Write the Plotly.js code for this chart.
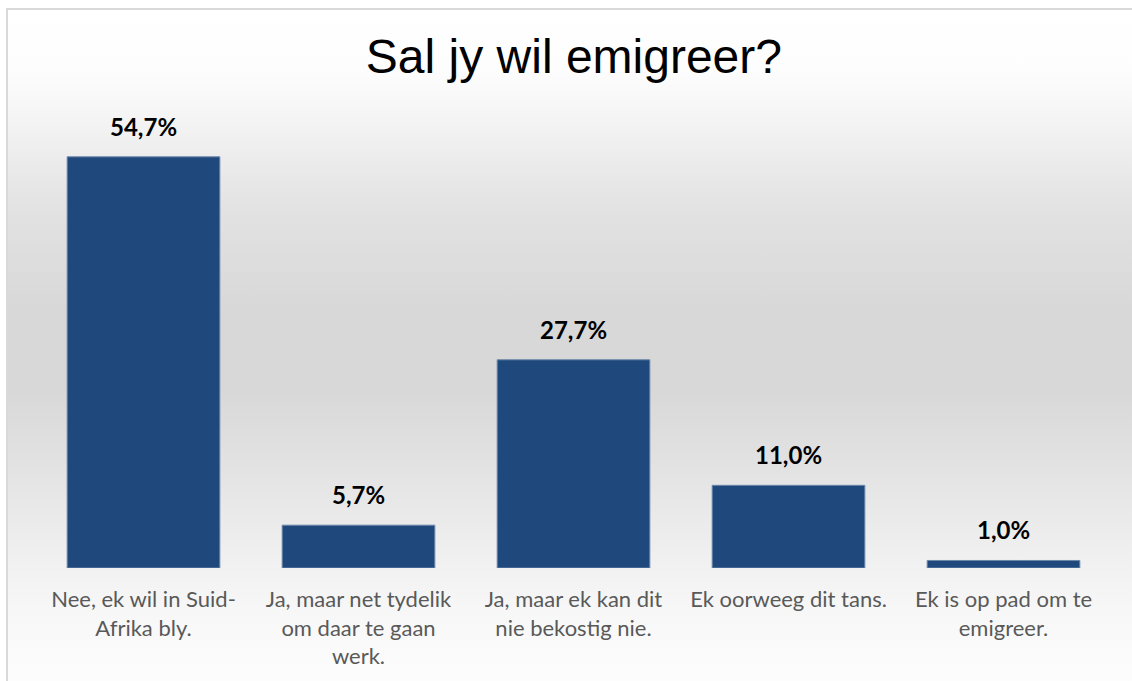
<!DOCTYPE html>
<html>
<head>
<meta charset="utf-8">
<script src="https://cdn.plot.ly/plotly-3.0.1.min.js"></script>
<style>
  html, body { margin: 0; padding: 0; background: #ffffff; overflow: hidden; }
  #frame {
    position: absolute; left: 6px; top: 8px; width: 1140px; height: 690px;
    border-top: 2px solid #d9d9d9; border-left: 2px solid #d9d9d9;
    background: linear-gradient(to bottom, #ffffff 0px, #fdfdfd 60px, #f4f4f4 110px, #e2e2e2 200px, #d8d8d8 300px, #d8d8d8 380px, #e3e3e3 460px, #efefef 540px, #f7f7f7 600px, #fdfdfd 672px);
  }
  #chart { position: absolute; left: 0; top: 0; width: 1132px; height: 681px; }
</style>
</head>
<body>
<div id="frame"></div>
<div id="chart"></div>
<script>
const categories = [
  "Nee, ek wil in Suid-<br>Afrika bly.",
  "Ja, maar net tydelik<br>om daar te gaan<br>werk.",
  "Ja, maar ek kan dit<br>nie bekostig nie.",
  "Ek oorweeg dit tans.",
  "Ek is op pad om te<br>emigreer."
];
const values = [54.7, 5.7, 27.7, 11.0, 1.0];
const valueLabels = ["54,7%", "5,7%", "27,7%", "11,0%", "1,0%"];
const chartTitle = "Sal jy wil emigreer?";

const trace = {
  type: "bar",
  x: categories,
  y: values,
  marker: { color: "#1f497d", line: { color: "#6c87ab", width: 1 } },
  hoverinfo: "none"
};

const annotations = categories.map((c, i) => ({
  x: c, y: values[i], xref: "x", yref: "y",
  text: "<b>" + valueLabels[i] + "</b>",
  showarrow: false, yanchor: "bottom", yshift: 14,
  font: { family: "Lato, 'Open Sans', sans-serif", size: 24, color: "#000000" }
}));

const layout = {
  width: 1132, height: 681,
  margin: { l: 36, r: 21, t: 117, b: 113 },
  paper_bgcolor: "rgba(0,0,0,0)",
  plot_bgcolor: "rgba(0,0,0,0)",
  title: {
    text: chartTitle,
    font: { family: "'Liberation Sans', Arial, sans-serif", size: 48, color: "#000000" },
    x: 0.507, xanchor: "center",
    y: 0.918, yref: "container", yanchor: "middle"
  },
  bargap: 0.29,
  showlegend: false,
  xaxis: {
    type: "category",
    range: [-0.5, 4.5],
    showline: false, showgrid: false, zeroline: false,
    ticks: "", ticklabelstandoff: 16,
    tickfont: { family: "Lato, 'Open Sans', sans-serif", size: 22, color: "#595959" },
    fixedrange: true
  },
  yaxis: {
    range: [0, 60],
    visible: false, showgrid: false, zeroline: false, fixedrange: true
  },
  annotations: annotations
};

Plotly.newPlot("chart", [trace], layout, { displayModeBar: false, staticPlot: true });
</script>
</body>
</html>
